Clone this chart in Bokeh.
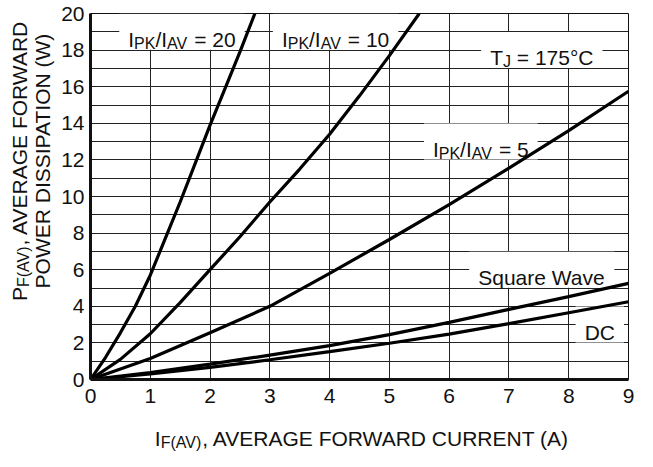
import math
from bokeh.plotting import figure
from bokeh.models import Range1d, FixedTicker, Label, BoxAnnotation
from bokeh.layouts import column, row
from bokeh.embed import file_html
from bokeh.resources import INLINE

# ---------------- data ----------------
x_ticks = [0, 1, 2, 3, 4, 5, 6, 7, 8, 9]
y_ticks = [0, 2, 4, 6, 8, 10, 12, 14, 16, 18, 20]
y_minor = list(range(0, 21))

ratio20_x = [0, 0.25, 0.5, 0.75, 1.0, 1.25, 1.5, 1.75, 2.0, 2.25, 2.5, 2.75]
ratio20_y = [0, 1.2, 2.55, 4.0, 5.7, 7.7, 9.7, 11.8, 13.9, 15.9, 17.9, 20.0]

ratio10_x = [0, 0.5, 1.0, 1.5, 2.0, 2.5, 3.0, 3.5, 4.0, 4.5, 5.0, 5.5]
ratio10_y = [0, 1.1, 2.5, 4.2, 6.0, 7.8, 9.7, 11.5, 13.4, 15.5, 17.7, 20.0]

ratio5_x = [0, 1, 2, 3, 4, 5, 6, 7, 8, 9]
ratio5_y = [0, 1.15, 2.55, 4.0, 5.8, 7.65, 9.55, 11.55, 13.6, 15.75]

square_x = [0, 1, 2, 3, 4, 5, 6, 7, 8, 9]
square_y = [0, 0.38, 0.84, 1.33, 1.85, 2.45, 3.12, 3.83, 4.53, 5.25]

dc_x = [0, 1, 2, 3, 4, 5, 6, 7, 8, 9]
dc_y = [0, 0.3, 0.66, 1.08, 1.52, 1.98, 2.48, 3.05, 3.65, 4.25]

FONT = "Liberation Sans"
INK = "#111111"

# Arial / Liberation Sans advance widths (per 1000 em)
W = {' ': 278, '(': 333, ')': 333, ',': 278, '/': 278, '=': 584, '°': 400,
     'A': 667, 'C': 722, 'D': 722, 'E': 667, 'F': 611, 'G': 778, 'I': 278,
     'J': 500, 'K': 667, 'N': 722, 'O': 778, 'P': 667, 'R': 722, 'S': 667,
     'T': 611, 'U': 722, 'V': 667, 'W': 944, 'a': 556, 'e': 556, 'q': 556,
     'r': 333, 'u': 556, 'v': 500}
for d in "0123456789":
    W[d] = 556


def tw(text, size):
    return sum(W.get(c, 556) for c in text) * size / 1000.0


# ---------------- layout sizes ----------------
YW = 55            # left strip for the y title
FW, FH = 538, 366  # plot frame
TOP, BOT = 13, 37
LB, RB = 35, 9
MAIN_H = TOP + FH + BOT
XH = 35            # bottom strip for the x title
TOTAL_W = YW + LB + FW + RB

p = figure(frame_width=FW, frame_height=FH,
           x_range=Range1d(0, 9), y_range=Range1d(0, 20),
           output_backend="svg", toolbar_location=None,
           min_border_left=LB, min_border_right=RB,
           min_border_top=TOP, min_border_bottom=BOT)

p.background_fill_color = "white"
p.border_fill_color = "white"
p.outline_line_color = "#111111"
p.outline_line_width = 1

p.xaxis.ticker = FixedTicker(ticks=x_ticks)
p.yaxis.ticker = FixedTicker(ticks=y_ticks, minor_ticks=y_minor)
p.xgrid.ticker = FixedTicker(ticks=x_ticks)
p.ygrid.ticker = FixedTicker(ticks=y_ticks, minor_ticks=y_minor)

for g in (p.xgrid, p.ygrid):
    g.grid_line_color = "#222222"
    g.grid_line_width = 1
p.ygrid.minor_grid_line_color = "#222222"
p.ygrid.minor_grid_line_width = 1

for ax in (p.xaxis, p.yaxis):
    ax.axis_line_color = "#111111"
    ax.axis_line_width = 3
    ax.major_tick_line_color = None
    ax.minor_tick_line_color = None
    ax.major_tick_out = 0
    ax.major_tick_in = 0
    ax.minor_tick_out = 0
    ax.minor_tick_in = 0
    ax.major_label_text_font = FONT
    ax.major_label_text_font_size = "21px"
    ax.major_label_text_color = INK
p.xaxis.major_label_standoff = 9
p.yaxis.major_label_standoff = 6

for xs, ys in ((ratio20_x, ratio20_y), (ratio10_x, ratio10_y),
               (ratio5_x, ratio5_y), (square_x, square_y), (dc_x, dc_y)):
    p.line(xs, ys, line_color="#000000", line_width=3.2)


def composed(fig, pieces, x, y, units="data", size=21, sub_ratio=0.76,
             angle=0.0, bg=False, level="annotation",
             pad_h=9, half_h=18):
    drop = 0.2 * size
    widths = [tw(t, size * (sub_ratio if s else 1)) for t, s in pieces]
    total = sum(widths)
    start = -total / 2
    if bg:
        sx = FW / 9.0
        sy = FH / 20.0
        fig.add_layout(BoxAnnotation(
            left=x + (start - pad_h) / sx, right=x + (start + total + pad_h) / sx,
            bottom=y - half_h / sy, top=y + half_h / sy,
            fill_color="white", fill_alpha=1.0, line_color=None,
            level="underlay"))
    cum = start
    base = -0.358 * size if angle == 0 else 0
    for (t, s), w in zip(pieces, widths):
        fs = size * sub_ratio if s else size
        stripped = t.lstrip(" ")
        lead = tw(t[:len(t) - len(stripped)], fs)
        pos = cum + lead
        if angle == 0:
            xo, yo = pos, base - (drop if s else 0)
        else:
            xo, yo = (drop if s else 0), pos
        fig.add_layout(Label(x=x, y=y, x_units=units, y_units=units,
                             text=stripped, x_offset=xo, y_offset=yo,
                             angle=angle, text_align="left",
                             text_baseline="alphabetic", text_font=FONT,
                             text_font_size=f"{fs:.1f}px", text_color=INK,
                             level=level))
        cum += w


# in-plot labels (white boxes over the grid, under the curves)
composed(p, [("I", 0), ("PK", 1), ("/I", 0), ("AV", 1), (" = 20", 0)],
         1.53, 19, bg=True, level="underlay")
composed(p, [("I", 0), ("PK", 1), ("/I", 0), ("AV", 1), (" = 10", 0)],
         4.1, 19, bg=True, level="underlay")
composed(p, [("T", 0), ("J", 1), (" = 175°C", 0)],
         7.55, 18, bg=True, level="underlay")
composed(p, [("I", 0), ("PK", 1), ("/I", 0), ("AV", 1), (" = 5", 0)],
         6.53, 13, bg=True, level="underlay")
composed(p, [("Square Wave", 0)], 7.55, 6, bg=True, level="underlay")
composed(p, [("DC", 0)], 8.52, 3, bg=True, level="underlay")


def strip_fig(w, h):
    f = figure(width=w, height=h, x_range=Range1d(0, w), y_range=Range1d(0, h),
               x_axis_type=None, y_axis_type=None,
               output_backend="svg", toolbar_location=None,
               min_border=0, min_border_left=0, min_border_right=0,
               min_border_top=0, min_border_bottom=0)
    f.outline_line_color = None
    f.background_fill_color = "white"
    f.border_fill_color = "white"
    f.grid.visible = False
    return f


# y title strip
yfig = strip_fig(YW, MAIN_H)
yc = MAIN_H - (TOP + FH / 2)
composed(yfig, [("P", 0), ("F(AV)", 1), (", AVERAGE FORWARD", 0)],
         19, yc, units="screen", angle=math.pi / 2)
composed(yfig, [("POWER DISSIPATION (W)", 0)],
         42, yc, units="screen", angle=math.pi / 2)

# x title strip
xfig = strip_fig(TOTAL_W, XH)
composed(xfig, [("I", 0), ("F(AV)", 1), (", AVERAGE FORWARD CURRENT (A)", 0)],
         YW + LB + FW / 2 + 4, 13 + 0.358 * 21, units="screen")

layout = column(row(yfig, p, spacing=0), xfig, spacing=0)

open("out.html", "w").write(file_html(layout, INLINE))
